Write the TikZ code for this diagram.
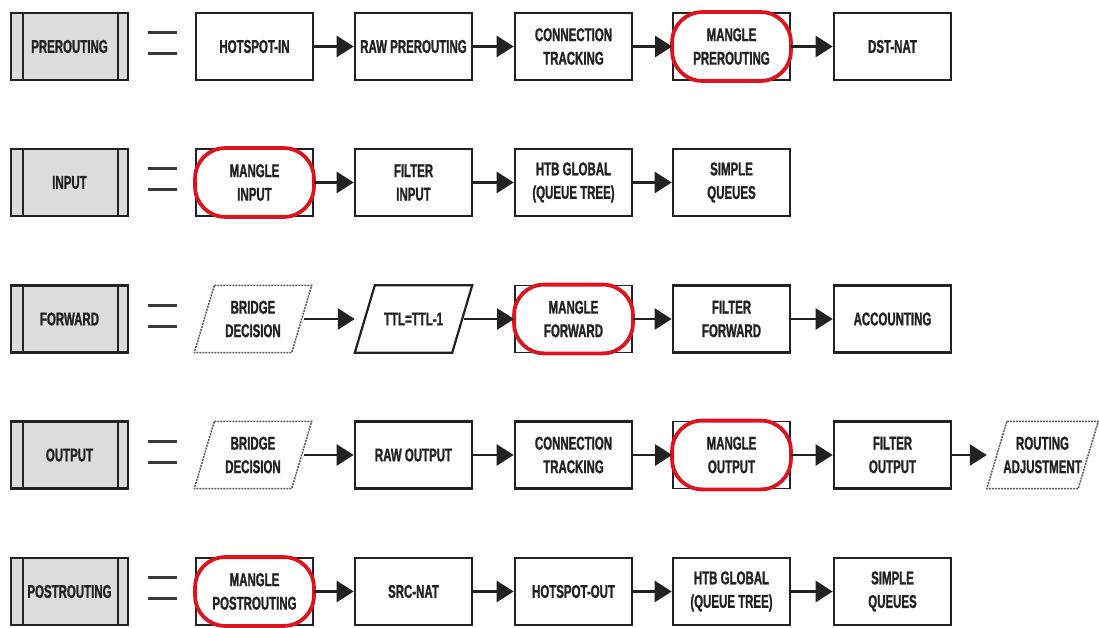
\documentclass[tikz,border=0pt]{standalone}
\usepackage{fontspec}
\newfontfamily\cond[FakeStretch=0.62,FakeBold=1.2]{Liberation Sans}
\usetikzlibrary{arrows.meta}
\definecolor{ink}{HTML}{222222}
\definecolor{mred}{HTML}{DC141E}
\definecolor{lgray}{HTML}{DCDCDC}
\newcommand\mangleoutline[1]{\draw[mred, line width=3.8pt, rounded corners=30pt] (#1.south west) rectangle (#1.north east);}
\newcommand\paradraw[2]{\draw[#2] ([xshift=20pt]#1.north west) -- (#1.north east) -- ([xshift=-20pt]#1.south east) -- (#1.south west) -- cycle;}
\newcommand\chainlines[1]{\draw[ink, line width=2pt] ([xshift=13pt]#1.north west) -- ([xshift=13pt]#1.south west) ([xshift=-11pt]#1.north east) -- ([xshift=-11pt]#1.south east);}
\newcommand\eqsign[1]{\draw[eqline] (148,#1-14) -- (177,#1-14) (148,#1+7) -- (177,#1+7);}
\begin{document}
\begin{tikzpicture}[x=1pt,y=-1pt,
 txt/.style={font=\cond\bfseries\fontsize{18.5}{23.5}\selectfont, text=ink, align=center, inner sep=0pt, minimum width=117pt, minimum height=67pt},
 box/.style={txt, draw=ink, line width=2.6pt},
 chainbox/.style={box, fill=lgray},
 mangle/.style={txt, draw=ink, line width=1.8pt},
 para/.style={txt},
 dashpara/.style={draw=ink!75, line width=1.5pt, dash pattern=on 2pt off 1pt},
 solidpara/.style={draw=ink, line width=2.2pt, line join=miter},
 arr/.style={draw=ink, line width=2.6pt, -{Triangle[length=17pt,width=21pt]}},
 eqline/.style={draw=ink!90, line width=3pt},
]
\useasboundingbox (0,0) rectangle (1099,628);
% Row 1 PREROUTING
\node[chainbox] (pre) at (69.5,46.5) {PREROUTING};
\chainlines{pre}
\eqsign{46.5}
\node[box] (p1) at (254.5,46.5) {HOTSPOT-IN};
\node[box] (p2) at (413.5,46.5) {RAW PREROUTING};
\node[box] (p3) at (573.5,46.5) {CONNECTION\\TRACKING};
\node[mangle] (p4) at (731.5,46.5) {MANGLE\\PREROUTING};
\mangleoutline{p4}
\node[box] (p5) at (892.5,46.5) {DST-NAT};
\draw[arr] (p1) -- (p2);
\draw[arr] (p2) -- (p3);
\draw[arr] (p3) -- (p4);
\draw[arr] (p4) -- (p5);
% Row 2 INPUT
\node[chainbox] (inp) at (69.5,182.5) {INPUT};
\chainlines{inp}
\eqsign{182.5}
\node[mangle] (i1) at (254.5,182.5) {MANGLE\\INPUT};
\mangleoutline{i1}
\node[box] (i2) at (413.5,182.5) {FILTER\\INPUT};
\node[box] (i3) at (573.5,182.5) {HTB GLOBAL\\(QUEUE TREE)};
\node[box] (i4) at (731.5,182.5) {SIMPLE\\QUEUES};
\draw[arr] (i1) -- (i2);
\draw[arr] (i2) -- (i3);
\draw[arr] (i3) -- (i4);
% Row 3 FORWARD
\node[chainbox] (fwd) at (69.5,319) {FORWARD};
\chainlines{fwd}
\eqsign{319}
\node[para] (f1) at (253,319) {BRIDGE\\DECISION};
\paradraw{f1}{dashpara}
\node[para] (f2) at (413.5,319) {TTL=TTL-1};
\paradraw{f2}{solidpara}
\node[mangle] (f3) at (573.5,319) {MANGLE\\FORWARD};
\mangleoutline{f3}
\node[box] (f4) at (731.5,319) {FILTER\\FORWARD};
\node[box] (f5) at (892.5,319) {ACCOUNTING};
\draw[arr] ([xshift=-8pt]f1.east) -- (f2.west);
\draw[arr] ([xshift=-8pt]f2.east) -- (f3.west);
\draw[arr] (f3) -- (f4);
\draw[arr] (f4) -- (f5);
% Row 4 OUTPUT
\node[chainbox] (out) at (69.5,455) {OUTPUT};
\chainlines{out}
\eqsign{455}
\node[para] (o1) at (253,455) {BRIDGE\\DECISION};
\paradraw{o1}{dashpara}
\node[box] (o2) at (413.5,455) {RAW OUTPUT};
\node[box] (o3) at (573.5,455) {CONNECTION\\TRACKING};
\node[mangle] (o4) at (731.5,455) {MANGLE\\OUTPUT};
\mangleoutline{o4}
\node[box] (o5) at (892.5,455) {FILTER\\OUTPUT};
\node[para, minimum width=111pt] (o6) at (1042.5,455) {ROUTING\\ADJUSTMENT};
\paradraw{o6}{dashpara}
\draw[arr] ([xshift=-8pt]o1.east) -- (o2.west);
\draw[arr] (o2) -- (o3);
\draw[arr] (o3) -- (o4);
\draw[arr] (o4) -- (o5);
\draw[arr] (o5.east) -- (o6.west);
% Row 5 POSTROUTING
\node[chainbox] (post) at (69.5,591.5) {POSTROUTING};
\chainlines{post}
\eqsign{591.5}
\node[mangle] (s1) at (254.5,591.5) {MANGLE\\POSTROUTING};
\mangleoutline{s1}
\node[box] (s2) at (413.5,591.5) {SRC-NAT};
\node[box] (s3) at (573.5,591.5) {HOTSPOT-OUT};
\node[box] (s4) at (731.5,591.5) {HTB GLOBAL\\(QUEUE TREE)};
\node[box] (s5) at (892.5,591.5) {SIMPLE\\QUEUES};
\draw[arr] (s1) -- (s2);
\draw[arr] (s2) -- (s3);
\draw[arr] (s3) -- (s4);
\draw[arr] (s4) -- (s5);
\end{tikzpicture}
\end{document}
